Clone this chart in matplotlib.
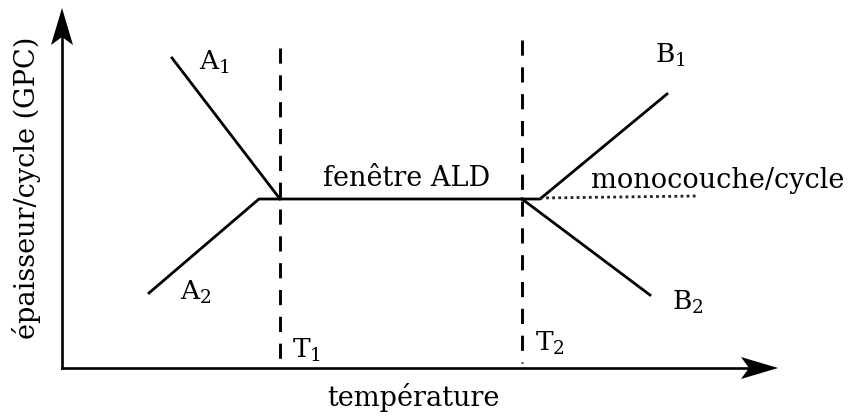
import numpy as np
import matplotlib.pyplot as plt
from matplotlib.patches import Polygon

plt.rcParams['font.family'] = ['DejaVu Serif']
plt.rcParams['mathtext.fontset'] = 'custom'
plt.rcParams['mathtext.rm'] = 'DejaVu Serif'

# schematic positions (image pixel units, y grows downward)
origin = (62, 368)
y_axis_top = 8
x_axis_end = 778
T1, T2 = 280, 522
T1_top, T2_top, T_bottom = 48, 40, 363
window_y = 199

A1_x, A1_y = [172, 280], [58, 199]
A2_x, A2_y = [149, 259, 522], [293, 199, 199]
B1_x, B1_y = [522, 540, 667], [199, 199, 94]
B2_x, B2_y = [522, 650], [199, 295]
mono_x, mono_y = [540, 697], [198, 196]

labels = ['A$_1$', 'A$_2$', 'B$_1$', 'B$_2$', 'T$_1$', 'T$_2$']
label_x = [199, 180, 655, 672, 292, 535]
label_y = [62, 292, 55, 302, 350, 343]

fig = plt.figure(figsize=(8.56, 4.17), dpi=100)
ax = fig.add_axes([0, 0, 1, 1])
ax.set_xlim(0, 856)
ax.set_ylim(417, 0)
ax.axis('off')

lw = 2.0
# axes with stealth arrowheads
def arrow(ax, x0, y0, x1, y1, length=37, half=11, notch=8):
    d = np.array([x1 - x0, y1 - y0], float)
    d /= np.hypot(*d)
    n = np.array([-d[1], d[0]])
    tip = np.array([x1, y1], float)
    base = tip - d * length
    pts = [tip, base + n * half, tip - d * (length - notch), base - n * half]
    ax.add_patch(Polygon(pts, closed=True, color='black', lw=0))
    end = tip - d * (length - notch)
    ax.plot([x0, end[0]], [y0, end[1]], color='black', lw=1.9)

arrow(ax, origin[0], origin[1], origin[0], y_axis_top)
arrow(ax, origin[0], origin[1], x_axis_end, origin[1])

ax.plot(A1_x, A1_y, color='black', lw=lw)
ax.plot(A2_x, A2_y, color='black', lw=lw)
ax.plot(B1_x, B1_y, color='black', lw=lw)
ax.plot(B2_x, B2_y, color='black', lw=lw)
ax.plot(mono_x, mono_y, color='#222222', lw=2.0, linestyle=(0, (1.0, 1.2)))

for x, top in [(T1, T1_top), (T2, T2_top)]:
    ax.plot([x, x], [top, T_bottom], color='black', lw=2.1, linestyle=(0, (5.2, 4.0)))

for s, x, y in zip(labels, label_x, label_y):
    ax.text(x, y, s, fontsize=19, ha='left', va='center')

ax.text(323, 178, 'fenêtre ALD', fontsize=19.5, ha='left', va='center')
ax.text(591, 180, 'monocouche/cycle', fontsize=19.5, ha='left', va='center')
ax.text(327, 398, 'température', fontsize=19.5, ha='left', va='center')
ax.text(27, 188, 'épaisseur/cycle (GPC)', fontsize=19.5, ha='center', va='center',
        rotation=90)

fig.savefig('out.png', dpi=100, facecolor='white')
